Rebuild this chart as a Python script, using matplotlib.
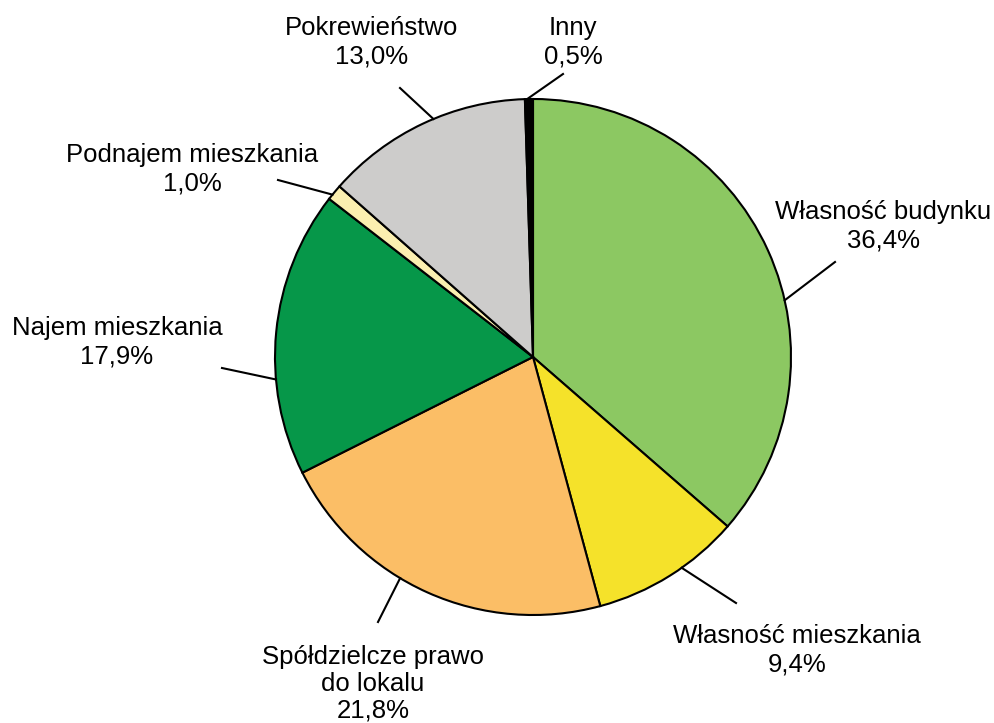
import numpy as np
import matplotlib.pyplot as plt

plt.rcParams['font.family'] = ['Liberation Sans', 'DejaVu Sans']

labels = ['Własność budynku', 'Własność mieszkania', 'Spółdzielcze prawo\ndo lokalu',
          'Najem mieszkania', 'Podnajem mieszkania', 'Pokrewieństwo', 'Inny']
values = [36.4, 9.4, 21.8, 17.9, 1.0, 13.0, 0.5]
colors = ['#8CC862', '#F5E22A', '#FBBE66', '#069749', '#FBEFB0', '#CDCCCB', '#000000']

# layout (pixel coords, y from top): label centre, leader angle, leader end
text_pos = [(883, 226), (797, 650), (373, 684), (117, 342), (192, 169), (372, 42), (573, 42)]
leader_ang = [12.7, -54.8, -121.0, -175.0, 141.0, 112.7, 91.3]
leader_end = [(835, 262), (736, 603), (378, 622), (222, 368), (278, 180), (400, 88), (563, 74)]

H = 723
cx, cy, r = 533, H - 357, 258

fig = plt.figure(figsize=(9.94, 7.23), dpi=100)
ax = fig.add_axes([0, 0, 1, 1])

ax.pie(values, colors=colors, startangle=90, counterclock=False,
       center=(cx, cy), radius=r, frame=True,
       wedgeprops=dict(edgecolor='black', linewidth=1.5))
ax.set_xlim(0, 994)
ax.set_ylim(0, H)
ax.set_aspect('equal')
ax.axis('off')

for lab, v, tp, a, le in zip(labels, values, text_pos, leader_ang, leader_end):
    txt = lab + '\n' + ('%.1f%%' % v).replace('.', ',')
    ls = 1.15 if '\n' in lab else 1.22
    ax.text(tp[0], H - tp[1], txt, ha='center', va='center', fontsize=18.5,
            linespacing=ls, color='black')
    x0 = cx + r * np.cos(np.radians(a))
    y0 = cy + r * np.sin(np.radians(a))
    ax.plot([x0, le[0]], [y0, H - le[1]], color='black', lw=1.5)

fig.savefig('out.png', dpi=100)
